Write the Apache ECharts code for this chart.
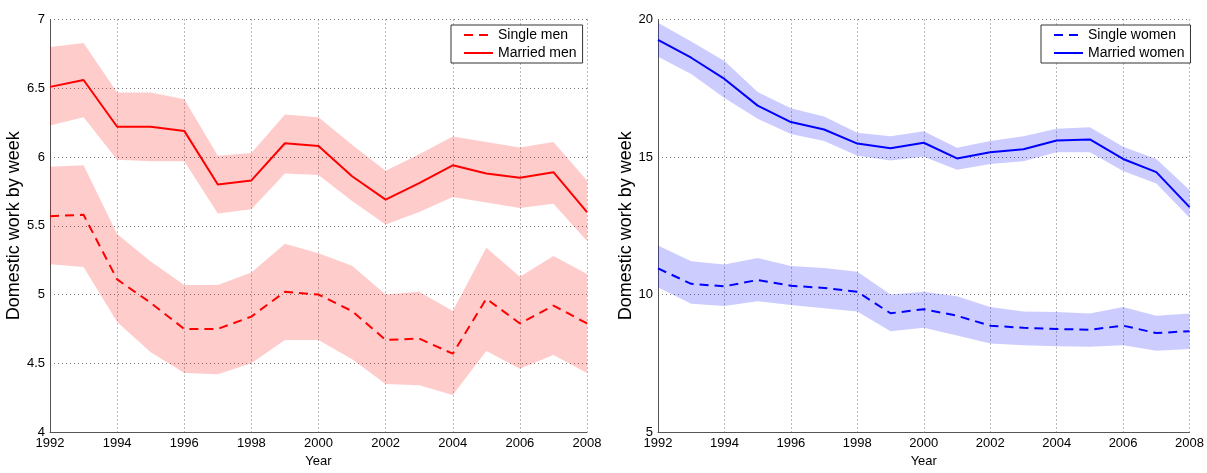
<!DOCTYPE html>
<html>
<head>
<meta charset="utf-8">
<script src="https://cdn.jsdelivr.net/npm/echarts@6/dist/echarts.min.js"></script>
<style>
  html, body { margin: 0; padding: 0; background: #fff; }
  #main { width: 1207px; height: 473px; }
</style>
</head>
<body>
<div id="main"></div>
<script>
const years = [1992, 1993, 1994, 1995, 1996, 1997, 1998, 1999, 2000, 2001, 2002, 2003, 2004, 2005, 2006, 2007, 2008];
const yearTicks = [1992, 1994, 1996, 1998, 2000, 2002, 2004, 2006, 2008];
const menTicks = [4, 4.5, 5, 5.5, 6, 6.5, 7];
const womenTicks = [5, 10, 15, 20];

// men (left panel)
const marriedMen     = [6.51, 6.56, 6.22, 6.22, 6.19, 5.80, 5.83, 6.10, 6.08, 5.86, 5.69, 5.81, 5.94, 5.88, 5.85, 5.89, 5.60];
const marriedMenHigh = [6.80, 6.83, 6.47, 6.47, 6.42, 6.01, 6.03, 6.31, 6.29, 6.09, 5.90, 6.02, 6.15, 6.11, 6.07, 6.11, 5.83];
const marriedMenLow  = [6.23, 6.29, 5.98, 5.97, 5.97, 5.59, 5.62, 5.88, 5.87, 5.68, 5.51, 5.60, 5.71, 5.67, 5.63, 5.66, 5.39];
const singleMen      = [5.57, 5.58, 5.11, 4.94, 4.75, 4.75, 4.84, 5.02, 5.00, 4.88, 4.67, 4.68, 4.57, 4.97, 4.79, 4.92, 4.79];
const singleMenHigh  = [5.93, 5.94, 5.44, 5.24, 5.07, 5.07, 5.16, 5.37, 5.30, 5.21, 5.00, 5.02, 4.88, 5.34, 5.13, 5.28, 5.15];
const singleMenLow   = [5.22, 5.20, 4.80, 4.58, 4.43, 4.42, 4.50, 4.67, 4.67, 4.53, 4.35, 4.34, 4.27, 4.59, 4.46, 4.56, 4.43];

// women (right panel)
const marriedWomen     = [19.26, 18.61, 17.84, 16.87, 16.27, 16.00, 15.49, 15.32, 15.52, 14.95, 15.17, 15.28, 15.60, 15.64, 14.93, 14.45, 13.18];
const marriedWomenHigh = [19.88, 19.20, 18.49, 17.36, 16.77, 16.47, 15.88, 15.76, 15.94, 15.34, 15.58, 15.76, 16.03, 16.08, 15.37, 14.93, 13.80];
const marriedWomenLow  = [18.65, 18.02, 17.15, 16.39, 15.84, 15.58, 15.05, 14.87, 15.01, 14.54, 14.75, 14.85, 15.17, 15.17, 14.49, 14.04, 12.79];
const singleWomen      = [10.95, 10.39, 10.30, 10.53, 10.32, 10.24, 10.10, 9.32, 9.47, 9.23, 8.87, 8.79, 8.75, 8.72, 8.87, 8.60, 8.67];
const singleWomenHigh  = [11.78, 11.21, 11.09, 11.33, 11.04, 10.97, 10.83, 10.00, 10.10, 9.94, 9.55, 9.38, 9.37, 9.31, 9.55, 9.23, 9.31];
const singleWomenLow   = [10.26, 9.67, 9.58, 9.76, 9.62, 9.50, 9.38, 8.67, 8.79, 8.51, 8.22, 8.16, 8.12, 8.10, 8.16, 7.96, 8.02];

const FONT = "'Liberation Sans', Arial, sans-serif";
const RED = "#ff0000";
const BLUE = "#0000ff";

const chart = echarts.init(document.getElementById("main"));

function pairs(vals) {
  return years.map((y, i) => [y, vals[i]]);
}

// confidence band drawn as one polygon: upper edge forward, lower edge back
function band(low, high, idx, color) {
  return {
    type: "custom", xAxisIndex: idx, yAxisIndex: idx, silent: true, z: 1,
    data: years.map((y, i) => [y, low[i], high[i]]),
    encode: { x: 0, y: [1, 2] },
    renderItem: (params, api) => {
      if (params.dataIndex !== 0) return null;
      const top = years.map((y, i) => api.coord([y, high[i]]));
      const bottom = years.map((y, i) => api.coord([y, low[i]])).reverse();
      return {
        type: "polygon",
        shape: { points: top.concat(bottom) },
        style: { fill: color },
      };
    },
  };
}

function line(name, vals, idx, color, dashed) {
  return {
    name: name, type: "line", xAxisIndex: idx, yAxisIndex: idx,
    data: pairs(vals), symbol: "none", z: 3,
    itemStyle: { color: color },
    lineStyle: { color: color, width: 2, type: dashed ? [9, 6] : "solid" },
  };
}

function xAxisFor(idx) {
  return {
    gridIndex: idx, type: "value",
    min: yearTicks[0], max: yearTicks[yearTicks.length - 1],
    interval: yearTicks[1] - yearTicks[0],
    name: "Year", nameLocation: "middle", nameGap: 20,
    nameTextStyle: { fontFamily: FONT, fontSize: 13, color: "#000" },
    axisLine: { show: true, onZero: false, lineStyle: { color: "#555", width: 1 } },
    axisTick: { show: false },
    axisLabel: { fontFamily: FONT, fontSize: 13, color: "#000", margin: 5, formatter: (v) => String(v) },
    splitLine: { show: true, lineStyle: { color: "#777", type: [1, 3], width: 1 } },
  };
}

function yAxisFor(idx, ticks, gap) {
  return {
    gridIndex: idx, type: "value",
    min: ticks[0], max: ticks[ticks.length - 1],
    interval: ticks[1] - ticks[0],
    name: "Domestic work by week", nameLocation: "middle", nameGap: gap,
    nameTextStyle: { fontFamily: FONT, fontSize: 18, color: "#000" },
    axisLine: { show: true, onZero: false, lineStyle: { color: "#555", width: 1 } },
    axisTick: { show: false },
    axisLabel: { fontFamily: FONT, fontSize: 13, color: "#000", margin: 5 },
    splitLine: { show: true, lineStyle: { color: "#777", type: [1, 3], width: 1 } },
  };
}

function legendAt(left, names) {
  return {
    data: names, left: left, top: 25, orient: "vertical",
    selectedMode: false,
    backgroundColor: "#fff", borderColor: "#333", borderWidth: 1,
    padding: [3, 6, 3, 12], itemGap: 4, itemWidth: 29, itemHeight: 14,
    itemStyle: { opacity: 0 },
    textStyle: { fontFamily: FONT, fontSize: 14, color: "#000" },
  };
}

const option = {
  animation: false,
  backgroundColor: "#fff",
  grid: [
    { left: 50, right: 620, top: 19.5, bottom: 32 },
    { left: 658, right: 12, top: 19.5, bottom: 32 },
  ],
  legend: [
    legendAt(451, ["Single men", "Married men"]),
    legendAt(1041, ["Single women", "Married women"]),
  ],
  xAxis: [xAxisFor(0), xAxisFor(1)],
  yAxis: [yAxisFor(0, menTicks, 27), yAxisFor(1, womenTicks, 21)],
  series: [
    band(marriedMenLow, marriedMenHigh, 0, "rgba(255,0,0,0.2)"),
    band(singleMenLow, singleMenHigh, 0, "rgba(255,0,0,0.2)"),
    band(marriedWomenLow, marriedWomenHigh, 1, "rgba(0,0,255,0.2)"),
    band(singleWomenLow, singleWomenHigh, 1, "rgba(0,0,255,0.2)"),
    line("Single men", singleMen, 0, RED, true),
    line("Married men", marriedMen, 0, RED, false),
    line("Single women", singleWomen, 1, BLUE, true),
    line("Married women", marriedWomen, 1, BLUE, false),
  ],
};

option && chart.setOption(option);
</script>
</body>
</html>
